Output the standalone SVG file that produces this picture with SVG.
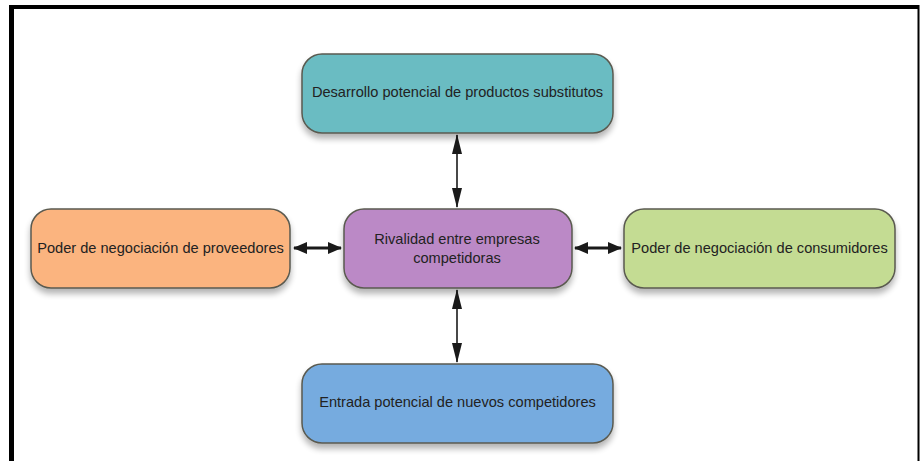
<svg xmlns="http://www.w3.org/2000/svg" width="920" height="461" viewBox="0 0 920 461">
<defs>
<style>
.box{stroke:#5a5a50;stroke-width:1.5;filter:url(#sh)}
.lbl{font-family:"Liberation Sans",Arial,sans-serif;font-size:14.6px;fill:#222222;text-anchor:middle;dominant-baseline:central}
.thin{stroke:#1a1a1a;stroke-width:1.6;fill:none}
.thick{stroke:#1a1a1a;stroke-width:3.2;fill:none}
</style>
<filter id="sh" x="-10%" y="-20%" width="120%" height="150%">
<feGaussianBlur in="SourceAlpha" stdDeviation="3"/>
<feOffset dx="0" dy="5" result="b"/>
<feComponentTransfer><feFuncA type="linear" slope="0.3"/></feComponentTransfer>
<feMerge><feMergeNode/><feMergeNode in="SourceGraphic"/></feMerge>
</filter>
<marker id="ah" viewBox="0 0 20 10" refX="19" refY="5" markerWidth="20" markerHeight="10" markerUnits="userSpaceOnUse" orient="auto-start-reverse">
<path d="M0,0 L20,5 L0,10 Z" fill="#1a1a1a"/>
</marker>
<marker id="at" viewBox="0 0 14 14" refX="13" refY="7" markerWidth="14" markerHeight="14" markerUnits="userSpaceOnUse" orient="auto-start-reverse">
<path d="M0,1 L14,7 L0,13 Z" fill="#1a1a1a"/>
</marker>
</defs>
<rect width="920" height="461" fill="#ffffff"/>
<g id="frame" fill="#000">
<rect x="9" y="5" width="910" height="4"/>
<rect x="9" y="5" width="5" height="456"/>
<rect x="917.5" y="5" width="2" height="456"/>
</g>
<g id="connectors">
<line class="thin" x1="457" y1="135" x2="457" y2="207" marker-start="url(#ah)" marker-end="url(#ah)"/>
<line class="thin" x1="457" y1="290" x2="457" y2="362" marker-start="url(#ah)" marker-end="url(#ah)"/>
<line class="thick" x1="294" y1="248" x2="341" y2="248" marker-start="url(#at)" marker-end="url(#at)"/>
<line class="thick" x1="575" y1="248" x2="621" y2="248" marker-start="url(#at)" marker-end="url(#at)"/>
</g>
<g id="n-substitutos">
<rect class="box" x="302" y="54" width="311" height="79" rx="20" fill="#6bbcc2"/>
<text class="lbl" x="457.5" y="92">Desarrollo potencial de productos substitutos</text>
</g>
<g id="n-proveedores">
<rect class="box" x="31" y="209" width="259" height="79" rx="20" fill="#fbb47f"/>
<text class="lbl" x="160.5" y="248">Poder de negociación de proveedores</text>
</g>
<g id="n-rivalidad">
<rect class="box" x="344" y="209" width="228" height="79" rx="20" fill="#bb89c6"/>
<text class="lbl" x="457" y="239">Rivalidad entre empresas</text>
<text class="lbl" x="457" y="258">competidoras</text>
</g>
<g id="n-consumidores">
<rect class="box" x="624" y="209" width="271" height="79" rx="20" fill="#c4dc93"/>
<text class="lbl" x="759.5" y="248">Poder de negociación de consumidores</text>
</g>
<g id="n-entrada">
<rect class="box" x="302" y="364" width="311" height="79" rx="20" fill="#76abdf"/>
<text class="lbl" x="457.5" y="402">Entrada potencial de nuevos competidores</text>
</g>
</svg>
